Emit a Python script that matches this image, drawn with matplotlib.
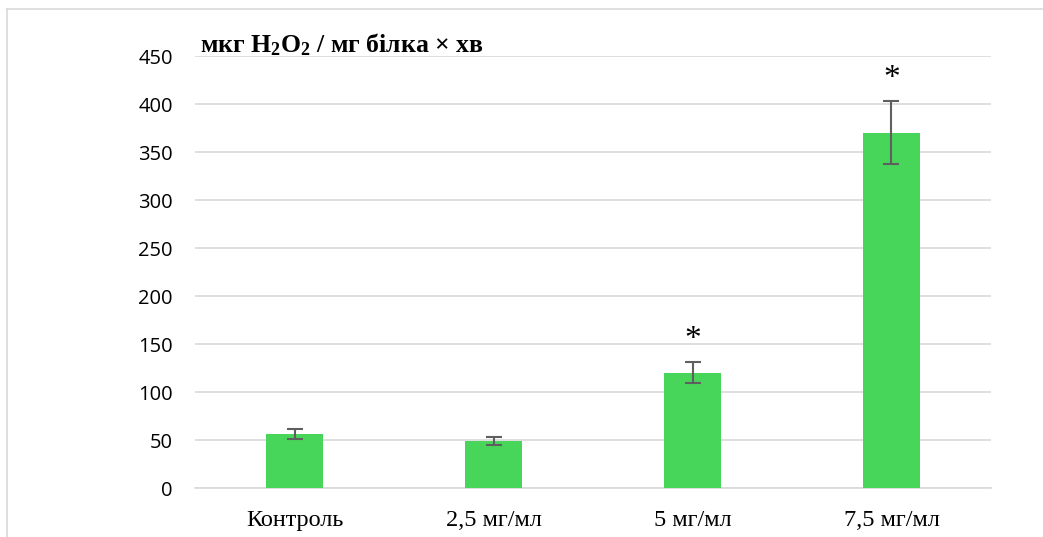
import matplotlib.pyplot as plt
from matplotlib.lines import Line2D

plt.rcParams["mathtext.fontset"] = "custom"
plt.rcParams["mathtext.rm"] = "Liberation Serif"
plt.rcParams["mathtext.bf"] = "Liberation Serif:bold"

# Catalase activity by extract concentration
groups = ["Контроль", "2,5 мг/мл", "5 мг/мл", "7,5 мг/мл"]
activity = [56, 49, 120, 370]
activity_err = [5, 4, 11, 33]
significant = [False, False, True, True]

fig = plt.figure(figsize=(10.43, 5.37), dpi=100)
ax = fig.add_axes([195 / 1043, 1 - 488 / 537, 796 / 1043, 432 / 537])

ax.bar(range(len(groups)), activity, width=0.29, color="#48D65A", zorder=3)
ax.errorbar(range(len(groups)), activity, yerr=activity_err, fmt="none",
            ecolor="#5f5f5f", elinewidth=1.5, capsize=6, capthick=1.5, zorder=4)

# mark significant differences above the error bars
for i, (v, e, s) in enumerate(zip(activity, activity_err, significant)):
    if s:
        ax.text(i, v + e + 23, "*", ha="center", va="center",
                fontsize=24, family="Liberation Serif", zorder=5)

ax.set_xlim(-0.5, len(groups) - 0.5)
ax.set_ylim(0, 450)
ax.set_yticks(range(0, 451, 50))
ax.set_xticks(range(len(groups)))
ax.set_xticklabels(groups, fontsize=17.5, family="Liberation Serif")
for lbl in ax.get_yticklabels():
    lbl.set_fontsize(14.5)
    lbl.set_family("Open Sans")

ax.yaxis.grid(True, color="#d9d9d9", linewidth=1.2, zorder=0)
ax.tick_params(axis="both", length=0)
ax.tick_params(axis="y", pad=16)
ax.tick_params(axis="x", pad=16)
for side in ["top", "right", "left"]:
    ax.spines[side].set_visible(False)
ax.spines["bottom"].set_color("#d9d9d9")
ax.spines["bottom"].set_linewidth(1.2)

fig.text(200 / 1043, 1 - 45 / 537,
         r"мкг $\mathbf{H_2O_2}$ / мг білка × хв",
         fontsize=18.5, fontweight="bold", family="Liberation Serif", va="center")

# chart area outline (top and left edges)
fig.add_artist(Line2D([7 / 1043, 1042 / 1043], [1 - 9 / 537, 1 - 9 / 537],
                      color="#d9d9d9", linewidth=1.2, transform=fig.transFigure))
fig.add_artist(Line2D([7 / 1043, 7 / 1043], [0, 1 - 9 / 537],
                      color="#d9d9d9", linewidth=1.2, transform=fig.transFigure))

fig.savefig("out.png", dpi=100)
